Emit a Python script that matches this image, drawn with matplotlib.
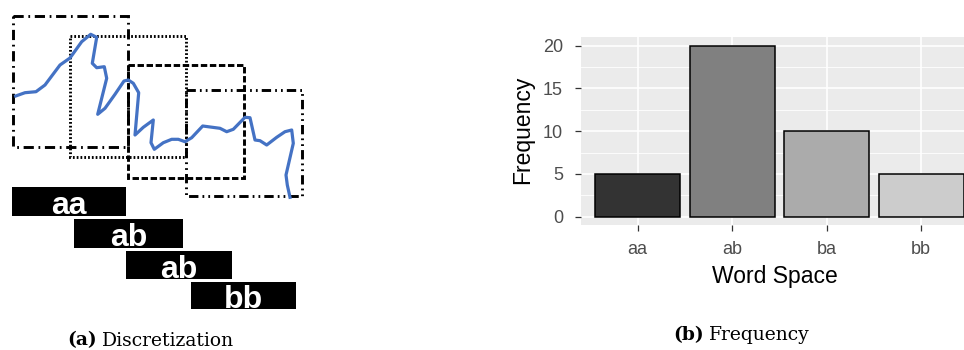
import matplotlib.pyplot as plt
from matplotlib.patches import Rectangle
import numpy as np

# --- left sketch: time series, sliding windows and the words they produce ---
series_x = [15.7, 25, 36, 45, 60, 70, 81.7, 90.7, 96.7, 92.3, 96.7, 104.3, 106.7,
            97.7, 105, 115, 124, 128.3, 133.3, 138.7, 135, 143.3, 153.3, 151, 154.3,
            163.3, 171.7, 178.3, 185, 191.7, 202.7, 220, 226.7, 233.3, 245, 250, 255,
            260, 266.7, 276.7, 285, 291.7, 293.3, 286, 287.3, 290]
series_y = [96, 92.7, 91.7, 85, 65, 58, 41.7, 34.3, 37.3, 63.3, 67.7, 66.7, 78.3,
            114.3, 108.3, 94.3, 81, 80, 83.3, 92.7, 135, 127.3, 120, 142.7, 149.3,
            142.7, 139.3, 139.3, 141.7, 137.7, 126, 128.3, 131.7, 129.3, 117.3, 117.7,
            140, 140.7, 145, 137.3, 131.7, 130, 143.3, 175, 185, 197.3]

win_left = [12.7, 70, 128, 186]
win_right = [128, 186, 244, 302]
win_top = [15.7, 36, 65, 90]
win_bottom = [147, 157, 178, 196]

words = ['aa', 'ab', 'ab', 'bb']
word_left = [11.7, 74, 126, 191]
word_right = [125.7, 182.7, 231.7, 296]
word_top = [187.3, 219, 251, 281.7]
word_bottom = [216, 248, 279, 309]

# --- right chart: word frequencies ---
categories = ['aa', 'ab', 'ba', 'bb']
frequency = [5, 20, 10, 5]
bar_colors = ['#333333', '#808080', '#ABABAB', '#CCCCCC']

W, H = 964, 350
fig = plt.figure(figsize=(W / 100, H / 100), dpi=100)

# sketch drawn in pixel-like units on a full-figure canvas
ax_l = fig.add_axes([0, 0, 1, 1])
ax_l.set_xlim(0, W)
ax_l.set_ylim(H, 0)
ax_l.axis('off')

box_styles = [(0, (3.5, 1.6, 0.6, 1.6)),
              (0, (0.6, 0.7)),
              (0, (2.2, 0.9)),
              (0, (3.2, 1.4, 0.6, 1.4, 0.6, 1.4))]
for x0, x1, y0, y1, ls in zip(win_left, win_right, win_top, win_bottom, box_styles):
    ax_l.add_patch(Rectangle((x0, y0), x1 - x0, y1 - y0, fill=False,
                             edgecolor='black', linewidth=2.1, linestyle=ls))

ax_l.plot(series_x, series_y, color='#4472C4', linewidth=2.3,
          solid_joinstyle='round', zorder=5)

for w, x0, x1, y0, y1 in zip(words, word_left, word_right, word_top, word_bottom):
    ax_l.add_patch(Rectangle((x0, y0), x1 - x0, y1 - y0, facecolor='black',
                             edgecolor='none'))
    ax_l.text((x0 + x1) / 2, y1 - 1.5, w, color='white', fontsize=23,
              fontweight='bold', family='Liberation Sans', ha='center',
              va='baseline')

# ggplot-style bar chart
ax = fig.add_axes([581 / W, 124.75 / H, (978 - 581) / W, 188.1 / H])
ax.set_facecolor('#EBEBEB')
pos = np.arange(1, len(categories) + 1)
ax.bar(pos, frequency, width=0.9, color=bar_colors, edgecolor='black',
       linewidth=1.1, zorder=3)
ax.set_xlim(0.4, len(categories) + 0.6)
ax.set_ylim(-1, 21)
ax.set_xticks(pos)
ax.set_xticklabels(categories)
ax.set_yticks([0, 5, 10, 15, 20])
ax.set_yticks([2.5, 7.5, 12.5, 17.5], minor=True)
ax.grid(which='major', color='white', linewidth=1.2, zorder=0)
ax.grid(which='minor', axis='y', color='white', linewidth=0.6, zorder=0)
ax.set_axisbelow(True)
for s in ax.spines.values():
    s.set_visible(False)
ax.tick_params(which='major', color='#333333', length=4, width=0.9,
               labelcolor='#4D4D4D', labelsize=13)
ax.tick_params(axis='y', pad=9)
ax.tick_params(axis='x', pad=7)
ax.tick_params(which='minor', length=0)
for lab in ax.get_xticklabels() + ax.get_yticklabels():
    lab.set_family('Liberation Sans')

fig.text(523 / W, 1 - 130 / H, 'Frequency', rotation=90, ha='center',
         va='center', fontsize=16.5, family='Liberation Sans')
fig.text(775 / W, 1 - 277 / H, 'Word Space', ha='center', va='center',
         fontsize=16.5, family='Liberation Sans')

# sub-figure captions: bold tag followed by regular title
def caption(x, y, tag, title):
    t = fig.text(x / W, 1 - y / H, tag, fontsize=13.5, fontweight='bold',
                 family='DejaVu Serif', va='baseline')
    fig.canvas.draw()
    bb = t.get_window_extent()
    fig.text((bb.x1 + 5) / W, 1 - y / H, title, fontsize=13.5,
             family='DejaVu Serif', va='baseline')

caption(67, 345.5, '(a)', 'Discretization')
caption(673, 340, '(b)', 'Frequency')

fig.savefig('out.png', dpi=100)
